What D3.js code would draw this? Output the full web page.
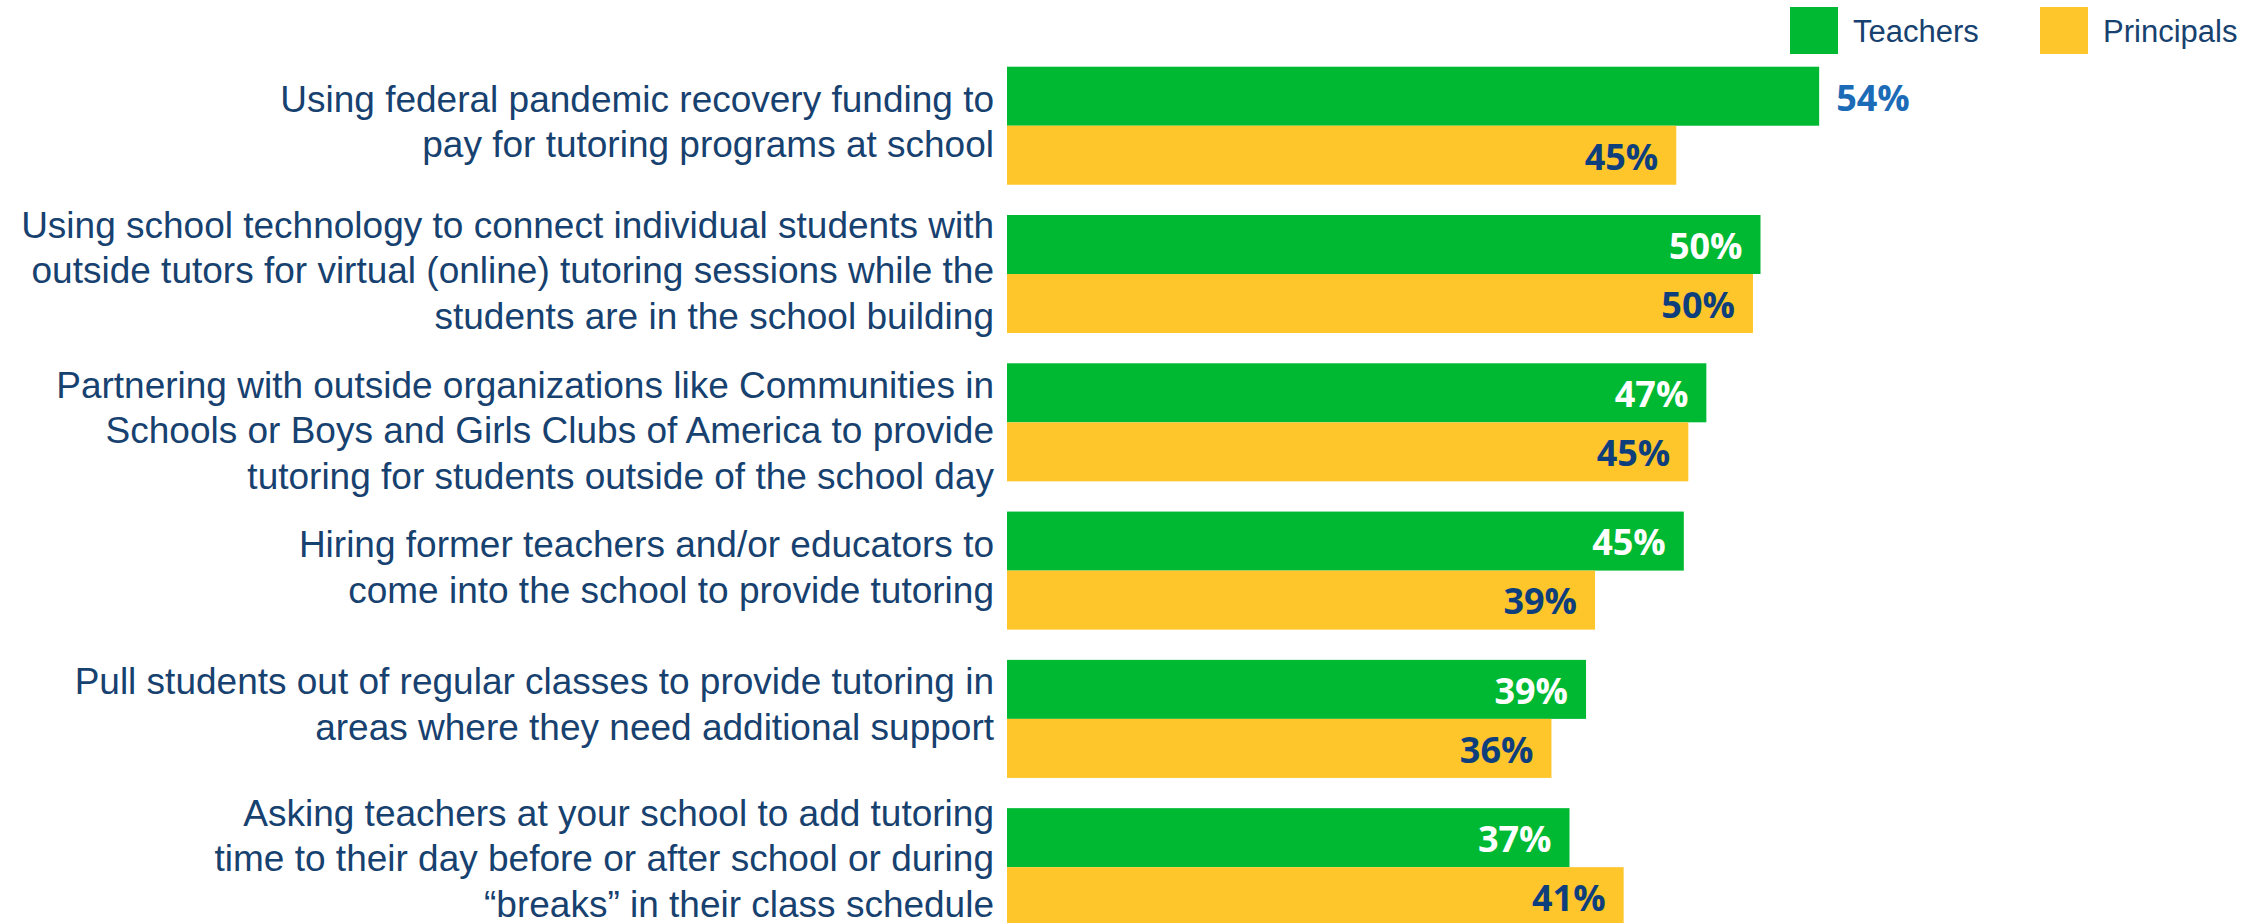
<!DOCTYPE html>
<html>
<head>
<meta charset="utf-8">
<script src="https://cdn.jsdelivr.net/npm/d3@7"></script>
<style>
  body { margin: 0; background: #fff; }
  svg { display: block; }
</style>
</head>
<body>
<div id="chart"></div>
<script>
// data
const categories = [
  "Using federal pandemic recovery funding to pay for tutoring programs at school",
  "Using school technology to connect individual students with outside tutors for virtual (online) tutoring sessions while the students are in the school building",
  "Partnering with outside organizations like Communities in Schools or Boys and Girls Clubs of America to provide tutoring for students outside of the school day",
  "Hiring former teachers and/or educators to come into the school to provide tutoring",
  "Pull students out of regular classes to provide tutoring in areas where they need additional support",
  "Asking teachers at your school to add tutoring time to their day before or after school or during \u201cbreaks\u201d in their class schedule"
];
const categoryLines = [
  ["Using federal pandemic recovery funding to", "pay for tutoring programs at school"],
  ["Using school technology to connect individual students with", "outside tutors for virtual (online) tutoring sessions while the", "students are in the school building"],
  ["Partnering with outside organizations like Communities in", "Schools or Boys and Girls Clubs of America to provide", "tutoring for students outside of the school day"],
  ["Hiring former teachers and/or educators to", "come into the school to provide tutoring"],
  ["Pull students out of regular classes to provide tutoring in", "areas where they need additional support"],
  ["Asking teachers at your school to add tutoring", "time to their day before or after school or during", "\u201cbreaks\u201d in their class schedule"]
];
const seriesNames = ["Teachers", "Principals"];
const teachers = [54, 50.1, 46.5, 45, 38.5, 37.4];
const principals = [44.5, 49.6, 45.3, 39.1, 36.2, 41];
const teacherLabels = ["54%", "50%", "47%", "45%", "39%", "37%"];
const principalLabels = ["45%", "50%", "45%", "39%", "36%", "41%"];

const W = 2261, H = 923;
const colors = { Teachers: "#00b932", Principals: "#ffc62b" };
const labelFill = { Teachers: "#ffffff", Principals: "#0e3f7c" };
// the text boxes in the original slide don't sit exactly on the group centre
const labelNudge = [1, 1, 13, 1.5, -10, -4];

const rows = categories.map((c, i) => ({
  category: c,
  lines: categoryLines[i],
  nudge: labelNudge[i],
  values: [
    { series: "Teachers", value: teachers[i], label: teacherLabels[i] },
    { series: "Principals", value: principals[i], label: principalLabels[i] }
  ]
}));

const svg = d3.select("#chart").append("svg")
  .attr("width", W)
  .attr("height", H);

const x0 = 1007;
const x = d3.scaleLinear().domain([0, 100]).range([x0, x0 + 1504]);
const y = d3.scaleBand()
  .domain(categories)
  .range([66.7, 926.2])
  .paddingInner(0.204)
  .paddingOuter(0);
const ySub = d3.scaleBand().domain(seriesNames).range([0, y.bandwidth()]);

// Bars
const groups = svg.append("g").selectAll("g")
  .data(rows)
  .join("g")
  .attr("transform", d => `translate(0, ${y(d.category)})`);

groups.selectAll("rect")
  .data(d => d.values)
  .join("rect")
  .attr("x", x(0))
  .attr("y", d => ySub(d.series))
  .attr("width", d => x(d.value) - x(0))
  .attr("height", ySub.bandwidth())
  .attr("fill", d => colors[d.series]);

// value labels: inside the bar end, except when it doesn't fit (the 54%)
groups.selectAll("text.val")
  .data(d => d.values)
  .join("text")
  .attr("class", "val")
  .attr("x", d => d.value > 52 ? x(d.value) + 17 : x(d.value) - 18)
  .attr("y", d => ySub(d.series) + ySub.bandwidth() / 2)
  .attr("dy", "0.4em")
  .attr("text-anchor", d => d.value > 52 ? "start" : "end")
  .style("font-family", "'Open Sans', 'Noto Sans', sans-serif")
  .style("font-weight", 700)
  .style("font-size", "36px")
  .attr("fill", d => d.value > 52 ? "#1b6bb6" : labelFill[d.series])
  .text(d => d.label);

// Category labels
const lineGap = 45.5;
const cat = svg.append("g").selectAll("text")
  .data(rows)
  .join("text")
  .attr("text-anchor", "end")
  .style("font-family", "'Liberation Sans', Arial, sans-serif")
  .style("font-size", "37px")
  .attr("fill", "#17416f");

cat.selectAll("tspan")
  .data(d => d.lines.map((t, i) => ({ t, i, n: d.lines.length, c: d.category, k: d.nudge })))
  .join("tspan")
  .attr("x", 994)
  .attr("y", d => y(d.c) + y.bandwidth() / 2 + (d.i - (d.n - 1) / 2) * lineGap + 8 + d.k)
  .text(d => d.t);

// Legend
const legendX = [1790, 2040];
const legend = svg.append("g").selectAll("g")
  .data(seriesNames)
  .join("g")
  .attr("transform", (d, i) => `translate(${legendX[i]}, 7)`);

legend.append("rect")
  .attr("width", 48)
  .attr("height", 47)
  .attr("fill", d => colors[d]);

legend.append("text")
  .attr("x", 63)
  .attr("y", 24)
  .attr("dy", "0.36em")
  .style("font-family", "'Liberation Sans', Arial, sans-serif")
  .style("font-size", "31px")
  .attr("fill", "#17416f")
  .text(d => d);
</script>
</body>
</html>
